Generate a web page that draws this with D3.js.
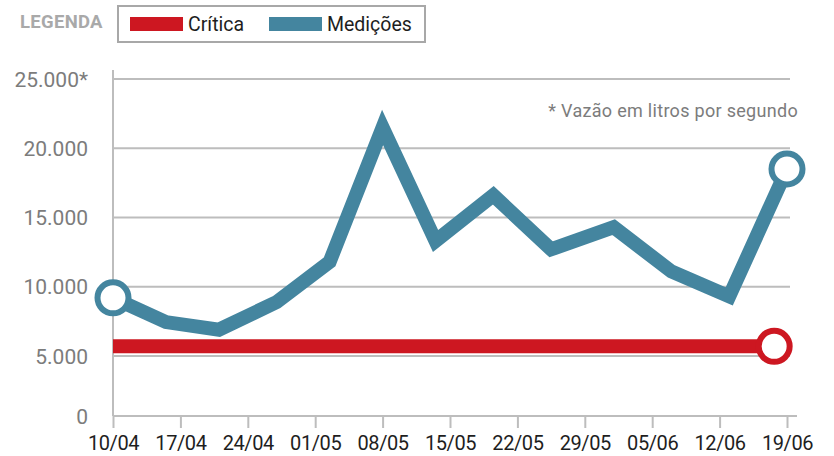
<!DOCTYPE html>
<html>
<head>
<meta charset="utf-8">
<script src="https://cdn.jsdelivr.net/npm/d3@7"></script>
<style>
  body { margin: 0; background: #fff; }
  svg { display: block; font-family: Roboto, "Noto Sans", sans-serif; }
</style>
</head>
<body>
<div id="chart"></div>
<script>
// dados
var xTicks = ["10/04", "17/04", "24/04", "01/05", "08/05", "15/05", "22/05", "29/05", "05/06", "12/06", "19/06"];
var yTicks = [0, 5000, 10000, 15000, 20000, 25000];
var yTickLabels = ["0", "5.000", "10.000", "15.000", "20.000", "25.000*"];

var medicoesDatas = ["2015-04-10T00", "2015-04-15T12", "2015-04-21T00", "2015-04-27T00", "2015-05-02T12",
  "2015-05-08T00", "2015-05-13T12", "2015-05-19T12", "2015-05-25T12", "2015-06-01T00",
  "2015-06-07T00", "2015-06-13T00", "2015-06-19T00"];
var medicoesValores = [9200, 7450, 6900, 8900, 11800, 21500, 13300, 16600, 12700, 14300, 11100, 9300, 18500];

var criticaDatas = ["2015-04-10T00", "2015-06-17T16"];
var criticaValores = [5700, 5700];

var legendaNomes = ["Crítica", "Medições"];

var width = 834, height = 456;
var azul = "#44859f", vermelho = "#cd1721";

var parseDia = d3.utcParse("%d/%m/%Y");
var parseHora = d3.utcParse("%Y-%m-%dT%H");

var x = d3.scaleUtc()
  .domain([parseDia("10/04/2015"), parseDia("19/06/2015")])
  .range([113, 787]);

// o eixo do original nao e linear abaixo de 5.000
var y = d3.scaleLinear()
  .domain([0, 5000, 25000])
  .range([416, 356, 79]);

var svg = d3.select("#chart")
  .append("svg")
    .attr("width", width)
    .attr("height", height);

// grade
svg.append("g")
  .selectAll("line")
  .data(yTicks.slice(1))
  .enter()
  .append("line")
    .attr("x1", 113)
    .attr("x2", 790)
    .attr("y1", function(d){ return y(d); })
    .attr("y2", function(d){ return y(d); })
    .attr("stroke", "#bdbdbd")
    .attr("stroke-width", 2);

// eixo y
svg.append("line")
  .attr("x1", 113).attr("x2", 113)
  .attr("y1", 70).attr("y2", y(0))
  .attr("stroke", "#bdbdbd")
  .attr("stroke-width", 2);

svg.append("g")
  .selectAll("text")
  .data(yTicks)
  .enter()
  .append("text")
    .attr("x", 88)
    .attr("y", function(d){ return y(d); })
    .attr("dy", "0.36em")
    .attr("text-anchor", "end")
    .style("font-size", "21px")
    .style("fill", "#7c7c7c")
    .text(function(d, i){ return yTickLabels[i]; });

// eixo x
var xAxis = d3.axisBottom(x)
  .tickValues(xTicks.map(function(t){ return parseDia(t + "/2015"); }))
  .tickFormat(d3.utcFormat("%d/%m"))
  .tickSize(12)
  .tickPadding(10);

var gx = svg.append("g")
  .attr("transform", "translate(0," + y(0) + ")")
  .call(xAxis);

gx.select(".domain").remove();
gx.append("line")
  .attr("x1", 113).attr("x2", 797)
  .attr("stroke", "#bdbdbd")
  .attr("stroke-width", 2);
gx.selectAll(".tick line")
  .attr("stroke", "#bdbdbd")
  .attr("stroke-width", 2);
gx.selectAll(".tick text")
  .attr("y", 34)
  .attr("dy", 0)
  .style("font-family", "Roboto, sans-serif")
  .style("font-size", "20px")
  .style("letter-spacing", "-0.4px")
  .style("fill", "#1e1e1e");

// nota
svg.append("text")
  .attr("x", 798)
  .attr("y", 117)
  .attr("text-anchor", "end")
  .style("font-size", "18px")
  .style("letter-spacing", "0.3px")
  .style("fill", "#7c7c7c")
  .text("* Vazão em litros por segundo");

// linha critica
var critica = criticaDatas.map(function(d, i){ return {date: parseHora(d), value: criticaValores[i]}; });
var medicoes = medicoesDatas.map(function(d, i){ return {date: parseHora(d), value: medicoesValores[i]}; });

var line = d3.line()
  .x(function(d){ return x(d.date); })
  .y(function(d){ return y(d.value); });

svg.append("path")
  .datum(critica)
  .attr("d", line)
  .attr("fill", "none")
  .attr("stroke", vermelho)
  .attr("stroke-width", 14);

svg.append("path")
  .datum(medicoes)
  .attr("d", line)
  .attr("fill", "none")
  .attr("stroke", azul)
  .attr("stroke-width", 14)
  .attr("stroke-linejoin", "miter")
  .attr("stroke-miterlimit", 10);

// marcadores nas pontas
var pontas = [
  {d: critica[critica.length - 1], c: vermelho},
  {d: medicoes[0], c: azul},
  {d: medicoes[medicoes.length - 1], c: azul}
];

svg.append("g")
  .selectAll("circle")
  .data(pontas)
  .enter()
  .append("circle")
    .attr("cx", function(p){ return x(p.d.date); })
    .attr("cy", function(p){ return y(p.d.value); })
    .attr("r", 15.5)
    .attr("fill", "#fff")
    .attr("stroke", function(p){ return p.c; })
    .attr("stroke-width", 6);

// legenda
svg.append("text")
  .attr("x", 20)
  .attr("y", 28)
  .style("font-size", "18.5px")
  .style("font-weight", "bold")
  .style("letter-spacing", "0.3px")
  .style("fill", "#a9a9a9")
  .text("LEGENDA");

svg.append("rect")
  .attr("x", 118).attr("y", 6)
  .attr("width", 307).attr("height", 36)
  .attr("fill", "none")
  .attr("stroke", "#a8a8a8")
  .attr("stroke-width", 2);

var legX = [130, 269];
var legCores = [vermelho, azul];
var leg = svg.append("g")
  .selectAll("g")
  .data(legendaNomes)
  .enter()
  .append("g")
    .attr("transform", function(d, i){ return "translate(" + legX[i] + ",0)"; });

leg.append("rect")
  .attr("y", 17)
  .attr("width", 53)
  .attr("height", 14)
  .attr("fill", function(d, i){ return legCores[i]; });

leg.append("text")
  .attr("x", 58)
  .attr("y", 31)
  .style("font-size", "19.5px")
  .style("fill", "#1e1e1e")
  .text(function(d){ return d; });
</script>
</body>
</html>
